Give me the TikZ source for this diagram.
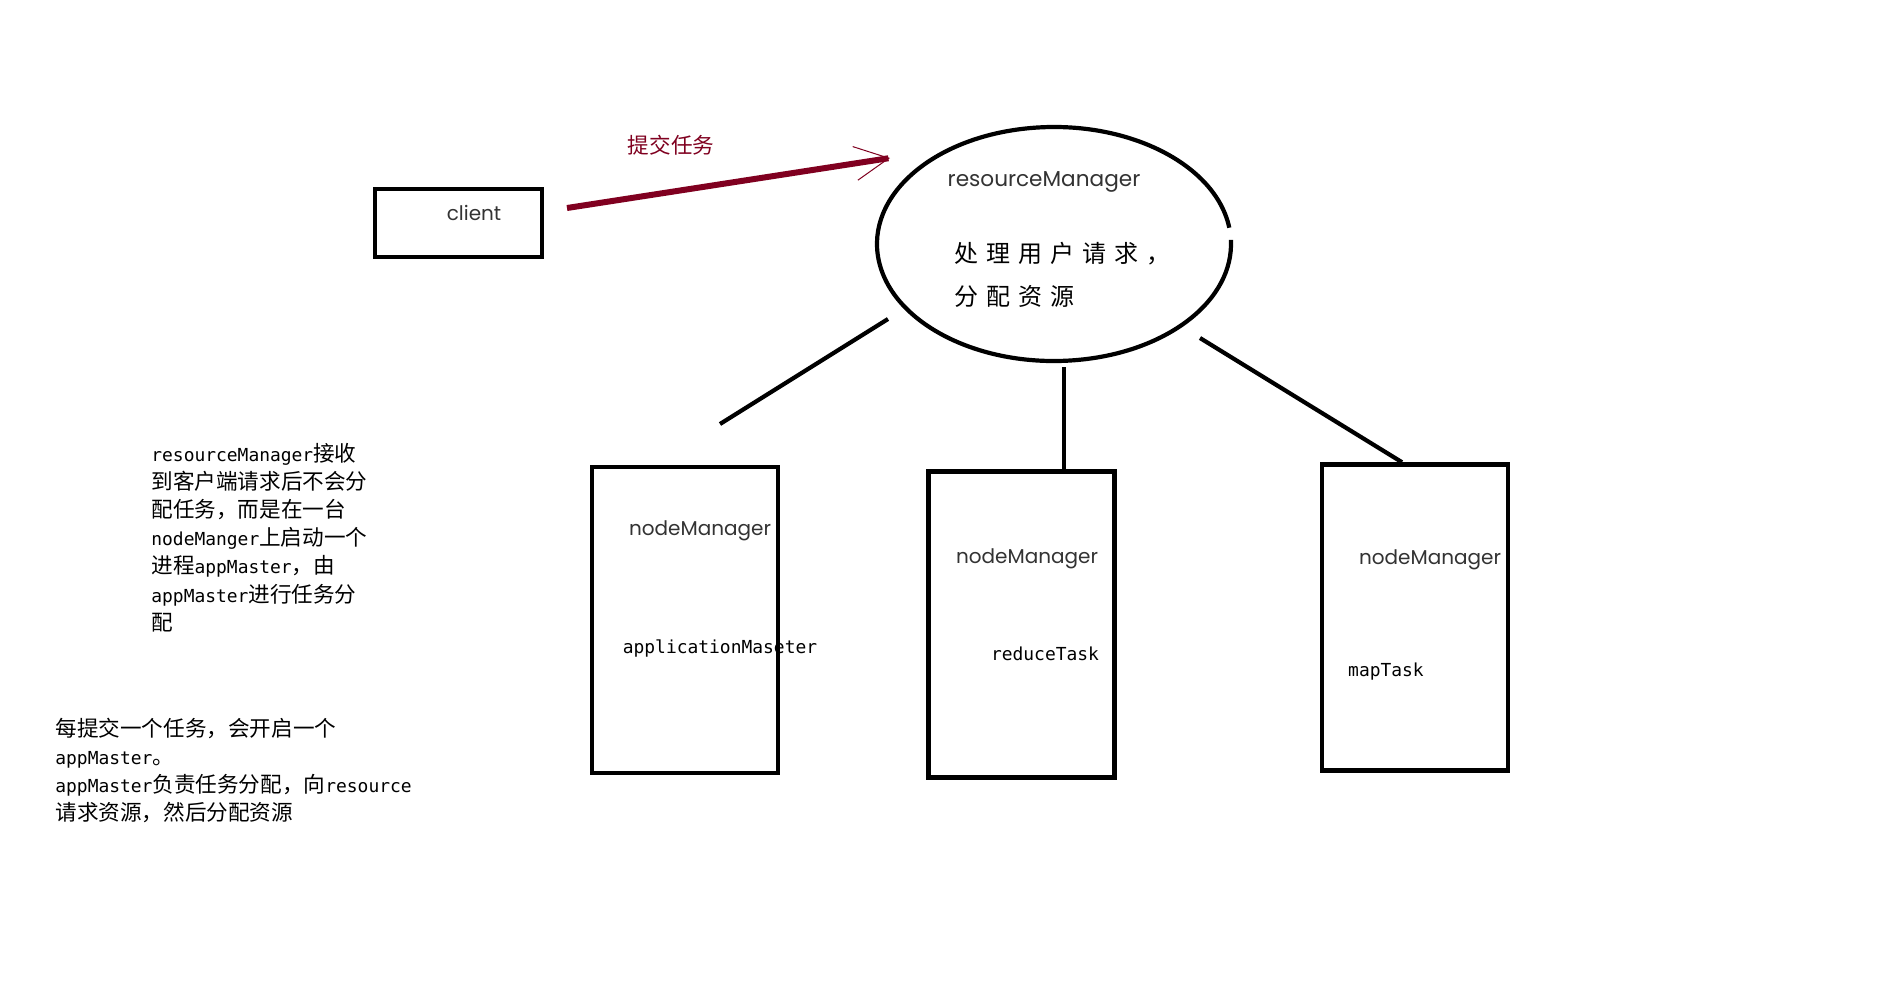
\documentclass[tikz,border=0pt]{standalone}
\usepackage{fontspec}
\setmainfont{Noto Sans CJK SC}
\setmonofont[Scale=0.83]{DejaVu Sans Mono}
\newfontfamily\geofont{Poppins}
\usetikzlibrary{arrows.meta,positioning,calc,shapes.geometric}
\definecolor{taskred}{HTML}{800020}
\makeatletter
\newcommand\handspread[1]{\@tfor\hch:=#1\do{\makebox[16pt][l]{\hch}}}
\makeatother
\tikzset{yarnbox/.style={draw,line width=2.25pt,minimum width=93pt,minimum height=153pt,inner sep=0pt},yarnlink/.style={line width=2.1pt},yarnarr/.style={-{Straight Barb[length=17pt,width=17pt,line width=0.5pt]},line width=3pt,draw=taskred},yarnlabel/.style={font=\geofont\fontsize{10}{12}\selectfont,text=black!80,inner sep=0pt},yarncode/.style={font=\ttfamily\fontsize{10.8}{14}\selectfont,inner sep=0pt},yarnnote/.style={font=\fontsize{10.8}{14.1}\selectfont,align=left,inner sep=0pt,anchor=north west}}

\begin{document}
\begin{tikzpicture}[x=0.5pt,y=-0.5pt]
\useasboundingbox[fill=white] (0,0) rectangle (1900,1002);
\node[draw,line width=2.25pt,minimum width=83.5pt,minimum height=34pt,inner sep=0pt] (client) at (458.5,223) {};
\node[yarnlabel] (clientlbl) at (474,213) {client};
\node[ellipse,minimum width=177pt,minimum height=117pt,inner sep=0pt] (rm) at (1054,244) {};
\draw[line width=2.1pt] (rm.center) ++(8:88.5pt and 58.5pt) arc[start angle=8,end angle=362,x radius=88.5pt,y radius=58.5pt];
\node[yarnlabel,font=\geofont\fontsize{10.8}{12}\selectfont] (rmlbl) at (1044,182) {resourceManager};
\node[font=\fontsize{12}{21.5}\selectfont,align=left,inner sep=0pt,anchor=west] (rmtask) at (954,275) {\handspread{处理用户请求，}\\\handspread{分配资源}};
\coordinate (submitfrom) at (567,208);
\coordinate (submitto) at (890,158);
\draw[yarnarr] (submitfrom) -- (submitto);
\node[font=\fontsize{10.8}{13}\selectfont,text=taskred,inner sep=0pt] (submitlbl) at (671,145) {提交任务};
\node[yarnbox] (nm1) at (685,620) {};
\node[yarnbox] (nm2) at (1021.5,624.5) {};
\node[yarnbox] (nm3) at (1415,617.5) {};
\node[yarnlabel] (nm1lbl) at (700,531) {nodeManager};
\node[yarnlabel] (nm2lbl) at (1027,559) {nodeManager};
\node[yarnlabel] (nm3lbl) at (1430,560) {nodeManager};
\node[yarncode] (appmaster) at (720,648) {applicationMaseter};
\node[yarncode] (reduce) at (1045,654) {reduceTask};
\node[yarncode] (map) at (1386,672) {mapTask};
\coordinate (rmleft) at (888,319);
\coordinate (nm1top) at (720,424);
\coordinate (rmright) at (1200,338);
\draw[yarnlink] (rmleft) -- (nm1top);
\draw[yarnlink] ([xshift=5pt,yshift=-3pt]rm.south) -- ([xshift=5pt]rm.south |- nm2.north);
\draw[yarnlink] (rmright) -- ([xshift=-6.5pt]nm3.north);
\node[yarnnote] (note1) at (151,441) {\strut\texttt{resourceManager}接收\\到客户端请求后不会分\\配任务，而是在一台\\\texttt{nodeManger}上启动一个\\进程\texttt{appMaster}，由\\\texttt{appMaster}进行任务分\\配};
\node[yarnnote] (note2) at (55,716) {\strut 每提交一个任务，会开启一个\\\texttt{appMaster}。\\\texttt{appMaster}负责任务分配，向\texttt{resource}\\请求资源，然后分配资源};
\end{tikzpicture}
\end{document}
